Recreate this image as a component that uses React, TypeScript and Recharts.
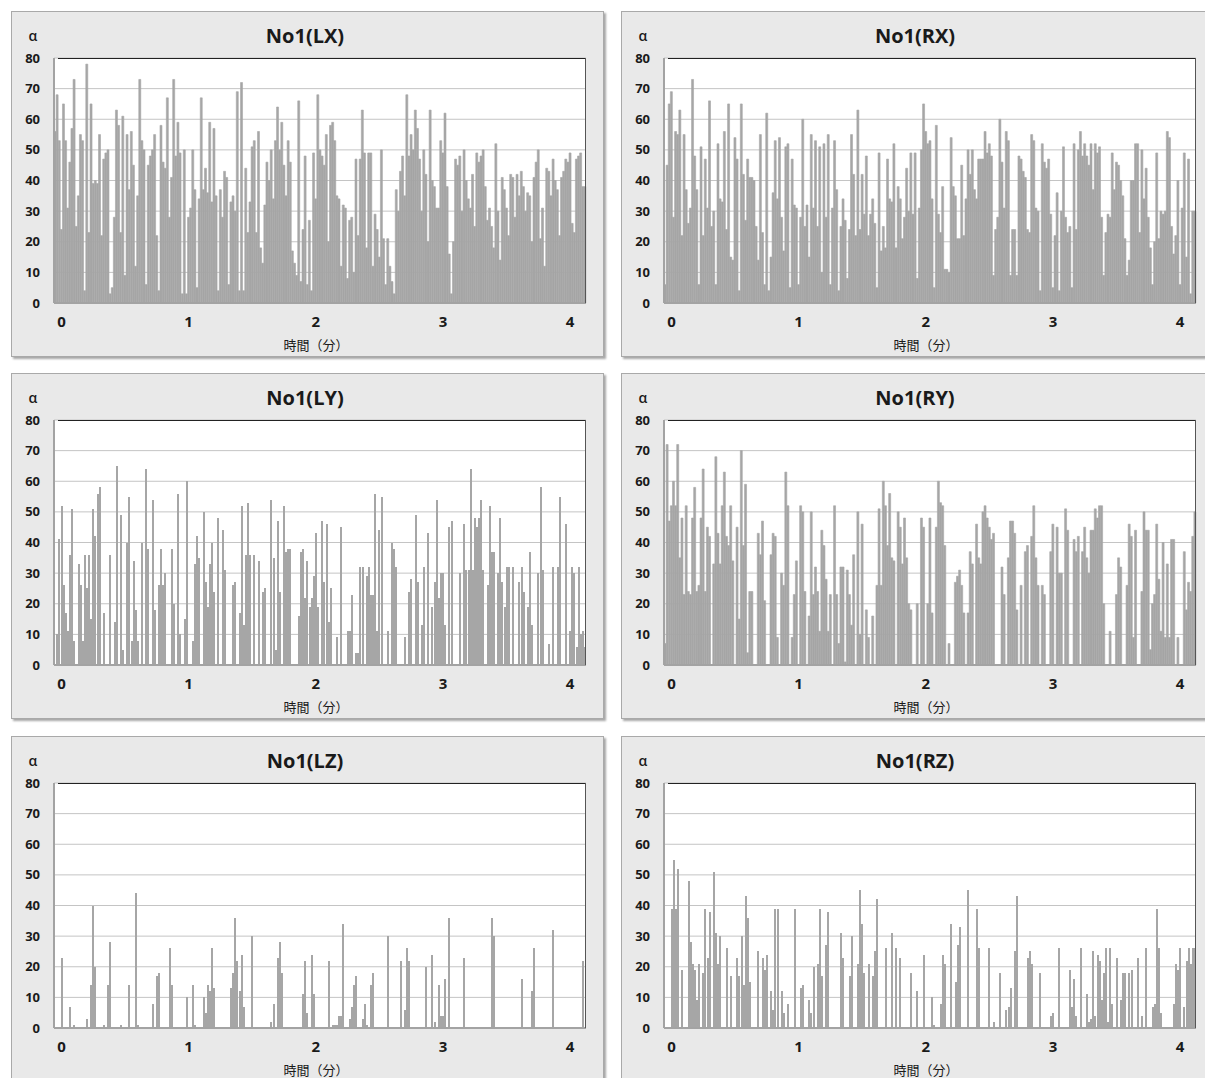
import React from 'react';
import { BarChart, Bar, XAxis, YAxis, CartesianGrid } from 'recharts';

// one value per second; the first samples sit slightly before t = 0
const SAMPLE_OFFSET = 3;
const SEC_PER_MIN = 60;
const X_TICKS = [0, 60, 120, 180, 240];
const Y_TICKS = [0, 10, 20, 30, 40, 50, 60, 70, 80];

const LX = [
  56, 68, 53, 24, 65, 53, 31, 46, 57, 73,
  25, 35, 55, 53, 4, 78, 23, 65, 39, 40,
  39, 55, 22, 47, 49, 50, 3, 5, 28, 63,
  58, 23, 61, 9, 55, 37, 56, 45, 12, 35,
  73, 53, 50, 6, 45, 48, 50, 55, 22, 4,
  58, 46, 44, 67, 28, 41, 73, 48, 59, 49,
  3, 50, 3, 28, 31, 50, 37, 5, 34, 67,
  37, 44, 36, 59, 33, 57, 35, 4, 37, 28,
  43, 41, 6, 33, 35, 30, 69, 4, 72, 4,
  44, 23, 33, 51, 53, 23, 56, 18, 13, 32,
  46, 40, 50, 34, 53, 64, 50, 59, 45, 35,
  53, 46, 17, 13, 9, 66, 7, 24, 48, 6,
  27, 4, 49, 34, 68, 50, 48, 45, 55, 20,
  58, 59, 53, 35, 34, 12, 32, 31, 8, 27,
  28, 10, 47, 22, 47, 63, 49, 18, 49, 49,
  12, 29, 24, 15, 50, 21, 6, 21, 12, 7,
  3, 37, 30, 43, 48, 35, 68, 48, 55, 50,
  63, 57, 47, 30, 50, 42, 20, 63, 40, 38,
  31, 31, 53, 49, 62, 38, 16, 3, 20, 47,
  45, 48, 30, 50, 40, 34, 31, 42, 25, 49,
  46, 48, 50, 38, 27, 31, 25, 18, 52, 30,
  14, 41, 37, 31, 22, 42, 41, 28, 42, 35,
  43, 38, 30, 36, 35, 20, 41, 46, 50, 21,
  31, 12, 44, 43, 35, 47, 40, 37, 22, 41,
  43, 47, 46, 49, 26, 23, 47, 48, 49, 38,
  38,
];

const RX = [
  6, 45, 65, 69, 28, 56, 55, 63, 22, 55,
  37, 26, 31, 73, 48, 37, 6, 51, 22, 47,
  31, 66, 25, 30, 6, 52, 34, 33, 56, 24,
  65, 15, 14, 54, 47, 4, 65, 42, 27, 47,
  41, 41, 40, 25, 14, 55, 23, 6, 62, 4,
  15, 36, 53, 34, 54, 28, 17, 51, 52, 5,
  47, 32, 31, 6, 28, 60, 25, 32, 15, 55,
  31, 53, 25, 51, 10, 52, 28, 55, 6, 31,
  53, 37, 4, 25, 34, 27, 8, 24, 55, 42,
  22, 63, 24, 42, 29, 48, 22, 29, 34, 26,
  5, 49, 17, 25, 18, 47, 34, 33, 52, 18,
  38, 34, 21, 28, 44, 30, 49, 29, 49, 8,
  31, 50, 65, 56, 52, 53, 34, 5, 58, 29,
  23, 38, 11, 11, 10, 54, 38, 35, 21, 21,
  45, 22, 34, 50, 42, 50, 37, 34, 47, 47,
  47, 56, 49, 52, 48, 9, 24, 28, 60, 46,
  31, 56, 53, 9, 24, 24, 9, 48, 47, 43,
  41, 24, 23, 55, 53, 31, 30, 4, 52, 46,
  44, 47, 29, 5, 22, 36, 4, 30, 51, 28,
  23, 25, 5, 52, 24, 50, 56, 48, 52, 48,
  45, 52, 37, 52, 49, 51, 28, 9, 23, 29,
  28, 49, 37, 46, 45, 40, 35, 21, 9, 14,
  40, 40, 52, 52, 23, 50, 34, 44, 28, 18,
  6, 20, 49, 21, 30, 29, 30, 56, 54, 25,
  16, 22, 40, 6, 31, 49, 15, 47, 3, 30,
  30,
];

const LY = [
  0, 10, 41, 52, 26, 17, 11, 36, 51, 8,
  0, 33, 26, 8, 36, 25, 36, 15, 51, 42,
  56, 58, 0, 17, 0, 0, 36, 0, 14, 65,
  0, 49, 5, 0, 40, 55, 8, 34, 18, 8,
  0, 40, 0, 64, 38, 0, 54, 18, 0, 26,
  38, 26, 30, 0, 0, 38, 20, 0, 56, 10,
  0, 15, 60, 0, 0, 8, 33, 42, 35, 0,
  50, 27, 19, 33, 40, 24, 0, 48, 0, 44,
  31, 0, 0, 0, 26, 27, 0, 17, 52, 13,
  36, 53, 36, 0, 36, 0, 34, 0, 24, 25,
  0, 0, 54, 35, 5, 47, 24, 0, 52, 37,
  38, 38, 0, 0, 0, 16, 37, 38, 22, 34,
  19, 22, 29, 43, 19, 0, 47, 27, 46, 14,
  25, 0, 0, 9, 0, 45, 0, 0, 11, 11,
  23, 0, 4, 4, 32, 32, 0, 29, 32, 23,
  23, 56, 11, 44, 55, 0, 0, 11, 0, 40,
  38, 32, 0, 0, 0, 9, 0, 24, 28, 0,
  49, 27, 0, 13, 32, 0, 43, 0, 19, 27,
  54, 22, 30, 30, 13, 0, 45, 47, 0, 0,
  0, 30, 0, 46, 31, 31, 64, 31, 48, 45,
  48, 54, 31, 0, 26, 52, 37, 37, 0, 30,
  48, 27, 19, 32, 32, 0, 32, 0, 0, 27,
  32, 24, 0, 19, 37, 13, 0, 0, 30, 58,
  31, 0, 0, 7, 0, 32, 0, 32, 55, 0,
  0, 46, 0, 11, 32, 30, 6, 32, 10, 11,
  6,
];

const RY = [
  7, 72, 47, 52, 60, 52, 72, 35, 48, 23,
  52, 24, 23, 48, 58, 24, 26, 48, 64, 24,
  45, 42, 0, 33, 68, 43, 33, 52, 63, 42,
  39, 52, 34, 0, 45, 15, 70, 39, 59, 4,
  24, 24, 0, 0, 43, 36, 47, 21, 0, 0,
  36, 43, 42, 9, 0, 30, 26, 63, 52, 0,
  9, 23, 34, 0, 52, 50, 24, 0, 16, 50,
  23, 32, 24, 11, 44, 39, 28, 11, 23, 0,
  52, 23, 7, 32, 32, 1, 31, 23, 13, 36,
  0, 50, 10, 46, 0, 18, 9, 0, 16, 0,
  26, 51, 26, 60, 52, 39, 56, 35, 34, 0,
  50, 45, 33, 48, 35, 20, 18, 0, 0, 20,
  0, 48, 45, 0, 20, 48, 17, 0, 45, 60,
  53, 52, 39, 0, 7, 0, 0, 27, 29, 31,
  26, 17, 0, 17, 37, 33, 0, 46, 35, 33,
  50, 52, 48, 45, 41, 43, 0, 0, 0, 32,
  23, 0, 35, 47, 47, 43, 18, 0, 26, 0,
  37, 39, 0, 42, 52, 35, 26, 0, 26, 23,
  0, 0, 37, 46, 0, 45, 30, 30, 0, 51,
  44, 0, 0, 41, 37, 42, 0, 37, 45, 35,
  30, 44, 44, 51, 48, 52, 52, 20, 0, 0,
  11, 0, 0, 23, 35, 32, 0, 0, 26, 46,
  42, 9, 44, 0, 0, 24, 50, 44, 44, 5,
  20, 23, 46, 28, 11, 40, 9, 33, 9, 41,
  41, 0, 9, 0, 0, 37, 18, 27, 24, 42,
  50,
];

const LZ = [
  0, 0, 0, 23, 0, 0, 0, 7, 0, 1,
  0, 0, 0, 0, 0, 3, 0, 14, 40, 20,
  0, 0, 0, 1, 0, 14, 28, 0, 0, 0,
  0, 1, 0, 0, 0, 14, 0, 0, 44, 1,
  0, 0, 0, 0, 0, 0, 8, 0, 17, 18,
  0, 0, 0, 0, 26, 14, 0, 0, 0, 0,
  0, 0, 10, 0, 0, 14, 1, 0, 0, 0,
  10, 5, 14, 12, 26, 13, 0, 0, 0, 0,
  0, 0, 0, 13, 18, 36, 22, 12, 24, 7,
  0, 0, 0, 30, 0, 0, 0, 0, 0, 0,
  0, 0, 2, 8, 0, 23, 28, 18, 0, 0,
  0, 0, 0, 0, 0, 0, 0, 11, 22, 5,
  0, 24, 11, 0, 0, 0, 0, 0, 0, 22,
  0, 1, 1, 1, 4, 4, 34, 0, 0, 3,
  7, 14, 17, 0, 0, 3, 8, 1, 0, 14,
  18, 0, 0, 0, 0, 0, 0, 30, 0, 0,
  0, 0, 0, 22, 0, 6, 26, 22, 0, 0,
  0, 0, 0, 0, 0, 20, 0, 0, 24, 2,
  0, 14, 4, 4, 16, 0, 36, 0, 0, 0,
  0, 0, 0, 23, 0, 0, 0, 0, 0, 0,
  0, 0, 0, 0, 0, 0, 36, 30, 0, 0,
  0, 0, 0, 0, 0, 0, 0, 0, 0, 0,
  16, 0, 0, 0, 0, 12, 26, 0, 0, 0,
  0, 0, 0, 0, 0, 32, 0, 0, 0, 0,
  0, 0, 0, 0, 0, 0, 0, 0, 0, 22,
  0,
];

const RZ = [
  0, 0, 0, 39, 55, 39, 52, 0, 19, 0,
  0, 48, 28, 21, 19, 9, 21, 0, 18, 39,
  23, 38, 0, 51, 31, 21, 30, 0, 0, 26,
  0, 17, 0, 0, 23, 17, 30, 14, 43, 36,
  15, 0, 0, 0, 25, 0, 23, 19, 24, 0,
  12, 6, 39, 39, 0, 12, 5, 0, 8, 0,
  0, 39, 0, 0, 13, 14, 0, 0, 9, 5,
  20, 0, 21, 39, 17, 0, 27, 38, 0, 0,
  0, 0, 0, 31, 23, 0, 0, 17, 30, 0,
  0, 21, 45, 34, 18, 0, 21, 0, 17, 25,
  42, 0, 0, 0, 26, 0, 0, 31, 0, 26,
  0, 23, 0, 0, 0, 0, 18, 0, 0, 12,
  0, 0, 24, 0, 0, 0, 10, 1, 0, 0,
  8, 24, 21, 0, 0, 34, 0, 15, 27, 33,
  0, 0, 0, 45, 0, 0, 0, 39, 26, 0,
  0, 0, 0, 26, 0, 2, 0, 0, 18, 0,
  0, 6, 7, 13, 0, 25, 43, 0, 0, 0,
  0, 23, 25, 21, 0, 0, 0, 18, 0, 0,
  0, 0, 4, 5, 0, 0, 26, 0, 0, 0,
  0, 19, 7, 16, 4, 0, 26, 0, 0, 11,
  2, 3, 25, 4, 24, 22, 9, 18, 26, 2,
  26, 8, 0, 23, 0, 9, 18, 18, 0, 18,
  19, 0, 0, 23, 0, 4, 0, 26, 0, 0,
  7, 8, 39, 26, 5, 0, 0, 0, 0, 0,
  8, 21, 19, 26, 0, 7, 22, 26, 21, 26,
  26,
];

const TITLES = ['No1(LX)', 'No1(RX)', 'No1(LY)', 'No1(RY)', 'No1(LZ)', 'No1(RZ)'];
const Y_LABEL = 'α';
const X_LABEL = '時間（分）';

const BOX_W = 593;
const BOX_H = 346;
const CHART_W = BOX_W - 2;
const CHART_H = BOX_H - 2;
const PLOT_LEFT = 42;
const PLOT_TOP = 46;
const PLOT_W = 532;
const PLOT_H = 245;
const FONT = '"Open Sans", "Noto Sans", sans-serif';
const BAR_COLOR = '#a6a6a6';

type PanelProps = { title: string; values: number[]; left: number; top: number; thin: boolean };

function Panel({ title, values, left, top, thin }: PanelProps) {
  const data = values.map((v, i) => ({ s: i - SAMPLE_OFFSET, v }));
  return (
    <div
      style={{
        position: 'absolute',
        left,
        top,
        width: BOX_W,
        height: BOX_H,
        boxSizing: 'border-box',
        background: '#e9e9e9',
        border: '1px solid #a9a9a9',
        boxShadow: '2px 2px 2px rgba(0,0,0,0.35)',
      }}
    >
      <div
        style={{
          position: 'absolute',
          left: 0,
          width: 586,
          top: 12,
          textAlign: 'center',
          fontFamily: FONT,
          fontWeight: 700,
          fontSize: 20,
          lineHeight: '24px',
          color: '#1a1a1a',
        }}
      >
        {title}
      </div>
      <div
        style={{
          position: 'absolute',
          left: 14,
          width: 14,
          top: 16,
          textAlign: 'center',
          fontFamily: FONT,
          fontWeight: 600,
          fontSize: 14,
          lineHeight: '16px',
          color: '#1a1a1a',
        }}
      >
        {Y_LABEL}
      </div>
      <BarChart
        width={CHART_W}
        height={CHART_H}
        data={data}
        margin={{ top: PLOT_TOP, right: CHART_W - PLOT_LEFT - PLOT_W, bottom: 0, left: 0 }}
        barCategoryGap={thin ? '10%' : 0}
        style={{ position: 'absolute', left: 0, top: 0 }}
      >
        <CartesianGrid horizontal vertical={false} stroke="#c4c4c4" fill="#ffffff" />
        <XAxis
          dataKey="s"
          type="category"
          ticks={X_TICKS}
          interval={0}
          height={CHART_H - PLOT_TOP - PLOT_H}
          tickLine={false}
          tickSize={0}
          tickMargin={13}
          axisLine={{ stroke: '#a3a3a3', strokeWidth: 2 }}
          tickFormatter={(v: number) => String(v / SEC_PER_MIN)}
          tick={{ fontSize: 15, fontWeight: 700, fill: '#1a1a1a', fontFamily: FONT }}
        />
        <YAxis
          type="number"
          domain={[0, 80]}
          ticks={Y_TICKS}
          interval={0}
          width={PLOT_LEFT}
          tickLine={false}
          tickSize={0}
          tickMargin={14}
          axisLine={{ stroke: '#a3a3a3', strokeWidth: 2 }}
          tick={{ fontSize: 13, fontWeight: 700, fill: '#1a1a1a', fontFamily: FONT }}
        />
        {thin ? (
          <Bar dataKey="v" fill={BAR_COLOR} shapeRendering="crispEdges" isAnimationActive={false} />
        ) : (
          <Bar
            dataKey="v"
            fill={BAR_COLOR}
            stroke={BAR_COLOR}
            strokeWidth={0.6}
            isAnimationActive={false}
          />
        )}
      </BarChart>
      <div
        style={{
          position: 'absolute',
          left: PLOT_LEFT + 4,
          top: PLOT_TOP,
          width: PLOT_W - 4,
          height: 1,
          background: '#222',
        }}
      />
      <div
        style={{
          position: 'absolute',
          left: PLOT_LEFT + PLOT_W - 1,
          top: PLOT_TOP,
          width: 1,
          height: PLOT_H,
          background: '#555',
        }}
      />
      <div
        style={{
          position: 'absolute',
          left: PLOT_LEFT - 4,
          width: PLOT_W,
          top: 325,
          textAlign: 'center',
          fontFamily: '"Noto Sans CJK JP", sans-serif',
          fontSize: 13,
          lineHeight: '16px',
          color: '#1a1a1a',
        }}
      >
        {X_LABEL}
      </div>
    </div>
  );
}

const SERIES = [LX, RX, LY, RY, LZ, RZ];
const THIN = [false, false, true, false, true, true];
const COL_LEFT = [11, 621];
const ROW_TOP = [11, 373, 736];

export default function App() {
  return (
    <div
      style={{
        position: 'absolute',
        left: 0,
        top: 0,
        width: 1205,
        height: 1078,
        overflow: 'hidden',
        background: '#ffffff',
      }}
    >
      {SERIES.map((values, k) => (
        <Panel
          key={TITLES[k]}
          title={TITLES[k]}
          values={values}
          thin={THIN[k]}
          left={COL_LEFT[k % 2]}
          top={ROW_TOP[Math.floor(k / 2)]}
        />
      ))}
    </div>
  );
}
